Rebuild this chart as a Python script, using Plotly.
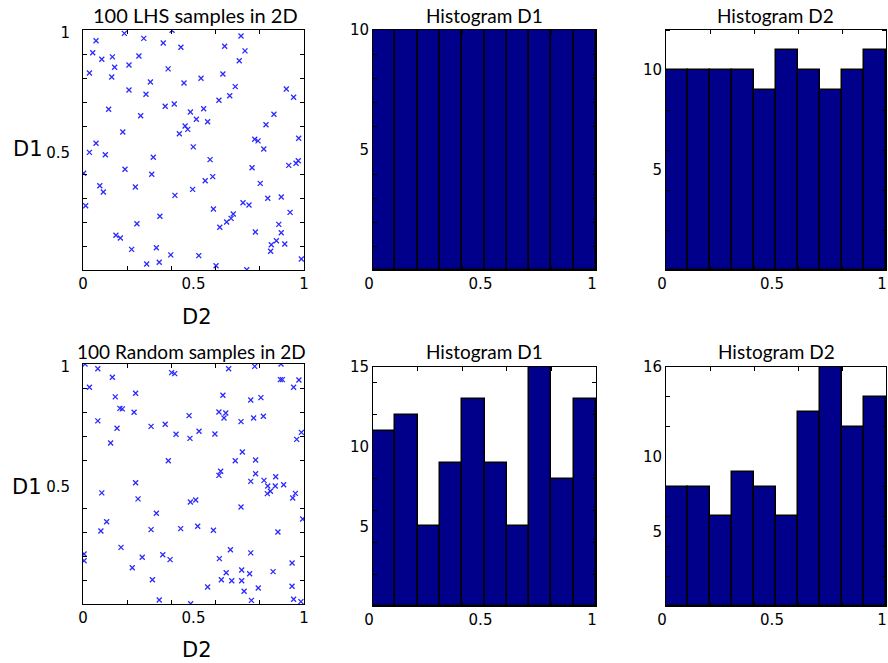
import plotly.graph_objects as go

# ---------------- data ----------------
lhs_d2 = [0.059, 0.187, 0.275, 0.363, 0.403, 0.443, 0.044, 0.085, 0.133, 0.253,
          0.143, 0.208, 0.385, 0.029, 0.130, 0.305, 0.457, 0.208, 0.285, 0.116,
          0.261, 0.372, 0.413, 0.486, 0.462, 0.474, 0.436, 0.180, 0.059, 0.499,
          0.715, 0.641, 0.733, 0.707, 0.633, 0.534, 0.689, 0.920, 0.953, 0.664,
          0.615, 0.546, 0.513, 0.564, 0.864, 0.828, 0.976, 0.777, 0.792, 0.818,
          0.029, 0.101, 0.318, 0.190, 0.003, 0.311, 0.076, 0.092, 0.237, 0.496,
          0.416, 0.012, 0.348, 0.244, 0.149, 0.169, 0.220, 0.332, 0.397, 0.288,
          0.345, 0.575, 0.765, 0.931, 0.964, 0.974, 0.553, 0.587, 0.802, 0.836,
          0.897, 0.724, 0.751, 0.590, 0.937, 0.680, 0.670, 0.650, 0.619, 0.886,
          0.780, 0.897, 0.875, 0.852, 0.913, 0.849, 0.988, 0.524, 0.602, 0.741]
lhs_d1 = [0.955, 0.986, 0.965, 0.946, 0.999, 0.928, 0.905, 0.878, 0.888, 0.892,
          0.845, 0.854, 0.838, 0.821, 0.804, 0.783, 0.779, 0.750, 0.732, 0.670,
          0.643, 0.682, 0.692, 0.658, 0.600, 0.586, 0.568, 0.575, 0.528, 0.513,
          0.975, 0.932, 0.913, 0.872, 0.817, 0.799, 0.764, 0.754, 0.720, 0.726,
          0.707, 0.672, 0.628, 0.618, 0.649, 0.605, 0.549, 0.545, 0.538, 0.504,
          0.490, 0.480, 0.470, 0.420, 0.403, 0.399, 0.351, 0.325, 0.346, 0.336,
          0.311, 0.268, 0.224, 0.193, 0.145, 0.133, 0.086, 0.093, 0.063, 0.025,
          0.032, 0.460, 0.426, 0.436, 0.445, 0.455, 0.372, 0.389, 0.361, 0.299,
          0.304, 0.280, 0.271, 0.254, 0.240, 0.233, 0.215, 0.200, 0.178, 0.190,
          0.158, 0.155, 0.122, 0.105, 0.108, 0.078, 0.046, 0.060, 0.018, 0.001]

rnd_d2 = [0.009, 0.067, 0.133, 0.401, 0.415, 0.029, 0.146, 0.238, 0.167, 0.178,
          0.231, 0.480, 0.067, 0.154, 0.308, 0.372, 0.421, 0.484, 0.125, 0.386,
          0.659, 0.777, 0.896, 0.893, 0.902, 0.977, 0.953, 0.633, 0.759, 0.805,
          0.615, 0.646, 0.638, 0.715, 0.772, 0.816, 0.525, 0.597, 0.988, 0.967,
          0.721, 0.689, 0.781, 0.623, 0.615, 0.781, 0.872, 0.759, 0.819,
          0.238, 0.085, 0.249, 0.486, 0.332, 0.107, 0.081, 0.308, 0.442, 0.172,
          0.005, 0.005, 0.268, 0.361, 0.394, 0.223, 0.314, 0.345, 0.487,
          0.836, 0.870, 0.908, 0.848, 0.834, 0.961, 0.949, 0.510, 0.715, 0.994,
          0.519, 0.590, 0.882, 0.667, 0.617, 0.759, 0.946, 0.648, 0.718, 0.754,
          0.860, 0.626, 0.673, 0.718, 0.564, 0.793, 0.946, 0.729, 0.762, 0.953, 0.986]
rnd_d1 = [1.000, 0.980, 0.945, 0.964, 0.960, 0.903, 0.863, 0.878, 0.815, 0.813,
          0.799, 0.785, 0.763, 0.732, 0.740, 0.749, 0.707, 0.690, 0.671, 0.597,
          0.980, 0.990, 1.000, 0.935, 0.935, 0.933, 0.903, 0.870, 0.850, 0.860,
          0.800, 0.796, 0.775, 0.760, 0.775, 0.782, 0.720, 0.708, 0.715, 0.686,
          0.633, 0.597, 0.600, 0.553, 0.536, 0.543, 0.530, 0.511, 0.515,
          0.505, 0.463, 0.438, 0.425, 0.378, 0.343, 0.304, 0.310, 0.314, 0.236,
          0.208, 0.180, 0.195, 0.205, 0.185, 0.151, 0.101, 0.017, 0.001,
          0.492, 0.492, 0.497, 0.470, 0.460, 0.461, 0.442, 0.433, 0.404, 0.354,
          0.324, 0.307, 0.300, 0.226, 0.189, 0.213, 0.171, 0.130, 0.142, 0.126,
          0.135, 0.101, 0.097, 0.097, 0.071, 0.067, 0.074, 0.053, 0.015, 0.020, 0.010]

bin_centers = [0.05, 0.15, 0.25, 0.35, 0.45, 0.55, 0.65, 0.75, 0.85, 0.95]
lhs_hist_d1 = [10, 10, 10, 10, 10, 10, 10, 10, 10, 10]
lhs_hist_d2 = [10, 10, 10, 10, 9, 11, 10, 9, 10, 11]
rnd_hist_d1 = [11, 12, 5, 9, 13, 9, 5, 15, 8, 13]
rnd_hist_d2 = [8, 8, 6, 9, 8, 6, 13, 16, 12, 14]

titles_top = ["100 LHS samples in 2D", "Histogram D1", "Histogram D2"]
titles_bottom = ["100 Random samples in 2D", "Histogram D1", "Histogram D2"]

# ---------------- figure ----------------
W, H = 888, 663
TICKFONT = dict(family="DejaVu Sans", size=15, color="black")
LABELFONT = dict(family="DejaVu Sans", size=21, color="black")


def px_x(a, b):
    return [a / W, b / W]


def px_y(top, bottom):
    return [1 - bottom / H, 1 - top / H]


fig = go.Figure()

marker = dict(symbol="x-thin-open", size=5, color="#2a2aff", line=dict(width=1.3, color="#2a2aff"))
fig.add_trace(go.Scatter(x=lhs_d2, y=lhs_d1, mode="markers", marker=marker, xaxis="x", yaxis="y"))
fig.add_trace(go.Scatter(x=rnd_d2, y=rnd_d1, mode="markers", marker=marker, xaxis="x4", yaxis="y4"))

bar_style = dict(marker=dict(color="#00008b", line=dict(color="black", width=1.5)), width=0.1)
fig.add_trace(go.Bar(x=bin_centers, y=lhs_hist_d1, xaxis="x2", yaxis="y2", **bar_style))
fig.add_trace(go.Bar(x=bin_centers, y=lhs_hist_d2, xaxis="x3", yaxis="y3", **bar_style))
fig.add_trace(go.Bar(x=bin_centers, y=rnd_hist_d1, xaxis="x5", yaxis="y5", **bar_style))
fig.add_trace(go.Bar(x=bin_centers, y=rnd_hist_d2, xaxis="x6", yaxis="y6", **bar_style))


def xaxis(domain, anchor, shift=0):
    return dict(domain=domain, anchor=anchor, range=[0, 1], showgrid=False, zeroline=False,
                automargin=False, ticklabelshift=shift, ticklabeloverflow="allow",
                showline=True, linecolor="black", linewidth=1, mirror="ticks",
                tickvals=[0, 0.5, 1], ticktext=["0", "0.5", "1"], ticks="",
                tickfont=TICKFONT,
                minor=dict(tickvals=[0.2, 0.4, 0.6, 0.8], ticks="inside", ticklen=4,
                           tickcolor="black", showgrid=False))


def yaxis(domain, anchor, rng, vals, minor_vals, standoff=0, shift=0):
    return dict(domain=domain, anchor=anchor, range=rng, showgrid=False, zeroline=False,
                automargin=False, ticklabelstandoff=standoff, ticklabelshift=shift,
                ticklabeloverflow="allow",
                showline=True, linecolor="black", linewidth=1, mirror="ticks",
                tickvals=vals, ticktext=[("%g" % v) for v in vals], ticks="",
                tickfont=TICKFONT,
                minor=dict(tickvals=minor_vals, ticks="inside", ticklen=4,
                           tickcolor="black", showgrid=False))


top_y = px_y(30, 270)
bot_y_sc = px_y(364, 604)
bot_y_h = px_y(367, 606)
col1 = px_x(83, 304)
col2 = px_x(373, 596)
col3 = px_x(666, 886)

sc_minor = [0.1, 0.2, 0.3, 0.4, 0.6, 0.7, 0.8, 0.9]

fig.update_layout(
    template="none",
    width=W, height=H, margin=dict(l=0, r=0, t=0, b=0, autoexpand=False),
    paper_bgcolor="white", plot_bgcolor="white", showlegend=False, bargap=0,
    xaxis=xaxis(col1, "y"), yaxis=yaxis(top_y, "x", [0, 1], [0.5, 1], sc_minor, standoff=9, shift=3),
    xaxis2=xaxis(col2, "y2", -4), yaxis2=yaxis(top_y, "x2", [0, 10], [5, 10], [1, 2, 3, 4, 6, 7, 8, 9]),
    xaxis3=xaxis(col3, "y3", -4), yaxis3=yaxis(top_y, "x3", [0, 12], [5, 10], [2, 4, 6, 8, 12]),
    xaxis4=xaxis(col1, "y4"), yaxis4=yaxis(bot_y_sc, "x4", [0, 1], [0.5, 1], sc_minor, standoff=9, shift=3),
    xaxis5=xaxis(col2, "y5", -4), yaxis5=yaxis(bot_y_h, "x5", [0, 15], [5, 10, 15], [2, 4, 6, 8, 12, 14]),
    xaxis6=xaxis(col3, "y6", -4), yaxis6=yaxis(bot_y_h, "x6", [0, 16], [5, 10, 16], [2, 4, 6, 8, 12, 14]),
)

ann = []
for i, (t, cx) in enumerate(zip(titles_top, [195, 484, 775])):
    ann.append(dict(text=t, x=cx / W, y=1 - 15 / H, xref="paper", yref="paper",
                    xanchor="center", yanchor="middle", showarrow=False,
                    font=dict(family="Lato", size=20 if i == 0 else 19, color="black")))
for i, (t, cx) in enumerate(zip(titles_bottom, [191, 484, 776])):
    ann.append(dict(text=t, x=cx / W, y=1 - 351 / H, xref="paper", yref="paper",
                    xanchor="center", yanchor="middle", showarrow=False,
                    font=dict(family="Lato", size=19, color="black")))
for t, (cx, cy) in zip(["D1", "D2", "D1", "D2"], [(28, 149), (197, 317), (27, 487), (197, 650)]):
    ann.append(dict(text=t, x=cx / W, y=1 - cy / H, xref="paper", yref="paper",
                    xanchor="center", yanchor="middle", showarrow=False, font=LABELFONT))
fig.update_layout(annotations=ann)

fig.write_html("out.html")
